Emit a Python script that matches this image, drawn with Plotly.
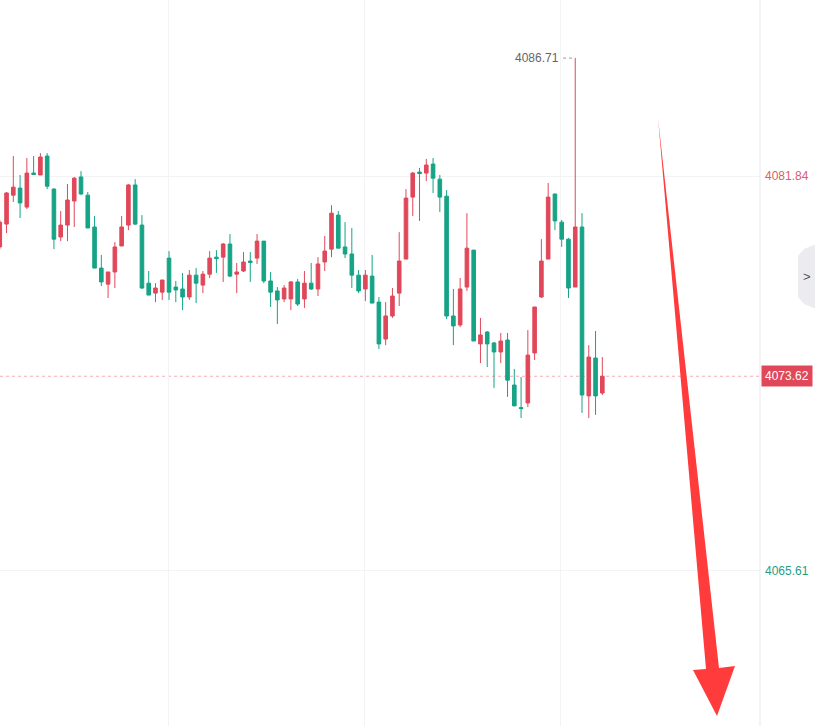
import plotly.graph_objects as go

# ---------------- data ----------------
idx = list(range(90))

opens = [4078.94, 4079.88, 4081.07, 4081.36, 4080.58, 4081.98, 4081.90, 4082.68, 4081.32, 4079.35,
         4079.84, 4080.83, 4081.82, 4081.07, 4079.76, 4078.07, 4077.41, 4077.91, 4078.98, 4079.84,
         4081.49, 4079.84, 4077.45, 4077.04, 4077.08, 4078.48, 4077.29, 4077.21, 4076.88, 4077.78,
         4077.37, 4077.82, 4078.52, 4078.52, 4079.06, 4077.82, 4077.95, 4078.36, 4078.48, 4079.18,
         4077.54, 4077.13, 4076.80, 4076.80, 4077.50, 4076.80, 4077.45, 4077.21, 4078.32, 4078.85,
         4080.25, 4078.94, 4078.65, 4077.78, 4077.21, 4077.74, 4076.67, 4075.15, 4076.10, 4077.04,
         4078.44, 4080.99, 4082.02, 4081.98, 4082.35, 4081.73, 4081.03, 4076.10, 4075.73, 4077.29,
         4078.81, 4074.95, 4075.44, 4074.99, 4074.62, 4075.11, 4073.26, 4072.33, 4072.52, 4074.58,
         4076.88, 4078.44, 4081.12, 4079.96, 4079.26, 4077.29, 4079.76, 4072.81, 4074.37, 4072.93]

highs = [4080.05, 4081.20, 4082.68, 4081.90, 4082.60, 4082.68, 4082.80, 4082.80, 4081.36, 4080.42,
         4081.53, 4081.82, 4082.06, 4081.20, 4080.21, 4078.61, 4077.91, 4079.14, 4080.21, 4081.53,
         4081.73, 4080.25, 4077.95, 4077.45, 4077.58, 4078.77, 4077.54, 4077.87, 4077.99, 4078.07,
         4077.95, 4078.77, 4078.81, 4079.10, 4079.47, 4078.28, 4078.73, 4078.73, 4079.47, 4079.18,
         4077.91, 4077.29, 4077.37, 4077.54, 4077.62, 4077.95, 4078.28, 4078.52, 4079.39, 4080.66,
         4080.42, 4079.96, 4079.72, 4077.99, 4077.99, 4078.61, 4076.88, 4076.67, 4077.25, 4079.55,
         4081.32, 4082.02, 4082.19, 4082.56, 4082.60, 4081.90, 4081.28, 4077.21, 4077.66, 4080.33,
         4078.81, 4076.02, 4075.48, 4075.03, 4075.40, 4075.40, 4073.92, 4073.59, 4075.52, 4076.47,
         4079.26, 4081.57, 4081.12, 4080.05, 4079.31, 4086.71, 4080.33, 4074.90, 4075.48, 4074.41]

lows = [4078.85, 4079.51, 4080.79, 4080.13, 4080.50, 4081.90, 4081.90, 4081.32, 4078.85, 4079.18,
        4079.18, 4079.76, 4081.07, 4079.72, 4078.07, 4077.33, 4076.84, 4077.25, 4078.98, 4079.63,
        4079.84, 4077.21, 4076.96, 4076.67, 4076.76, 4076.76, 4076.67, 4076.34, 4076.76, 4076.63,
        4077.04, 4077.66, 4077.87, 4077.50, 4077.70, 4077.04, 4077.91, 4077.50, 4078.24, 4077.45,
        4076.47, 4075.77, 4076.67, 4076.34, 4076.51, 4076.43, 4077.17, 4076.92, 4077.95, 4078.52,
        4078.89, 4078.48, 4077.25, 4077.04, 4076.71, 4076.63, 4074.74, 4074.90, 4076.02, 4076.51,
        4078.44, 4080.21, 4080.01, 4081.65, 4081.16, 4080.38, 4075.97, 4074.90, 4075.64, 4077.13,
        4075.07, 4074.16, 4074.00, 4073.14, 4074.16, 4072.77, 4072.40, 4071.90, 4072.35, 4074.29,
        4076.84, 4078.44, 4079.63, 4078.94, 4076.84, 4077.29, 4072.11, 4071.90, 4072.03, 4072.85]

closes = [4079.96, 4081.16, 4081.40, 4080.75, 4081.98, 4081.92, 4082.64, 4081.44, 4079.26, 4079.84,
          4080.87, 4081.77, 4081.12, 4079.72, 4078.07, 4077.50, 4077.91, 4078.94, 4079.76, 4081.49,
          4079.88, 4077.25, 4076.96, 4077.25, 4077.58, 4077.08, 4077.17, 4076.88, 4077.78, 4077.45,
          4077.82, 4078.48, 4078.46, 4079.06, 4077.74, 4077.91, 4078.32, 4078.30, 4079.18, 4077.54,
          4077.08, 4076.76, 4077.25, 4077.50, 4076.59, 4077.45, 4077.21, 4078.24, 4078.77, 4080.33,
          4078.89, 4078.65, 4077.78, 4077.13, 4077.78, 4076.63, 4074.95, 4076.10, 4076.92, 4078.36,
          4080.95, 4081.98, 4081.96, 4082.31, 4081.77, 4080.99, 4076.10, 4075.69, 4077.21, 4078.89,
          4075.07, 4075.32, 4074.95, 4074.62, 4075.07, 4073.46, 4072.40, 4072.29, 4074.49, 4076.47,
          4078.36, 4080.99, 4080.01, 4079.26, 4077.25, 4079.76, 4072.85, 4074.41, 4072.81, 4073.62]

price_ticks = [4081.84, 4065.61]
price_tick_labels = ["4081.84", "4065.61"]
last_price = 4073.62
high_label = "4086.71"
high_value = 4086.71
high_index = 85
time_grid = [24.9, 53.9, 82.8]

# ---------------- styling ----------------
RED = "#E0485A"
GREEN = "#16A386"
W, H = 815, 726
PLOT_W = 760

def px(x):
    return x / PLOT_W

def py(y):
    return 1 - y / H

fig = go.Figure()
fig.add_trace(go.Candlestick(
    x=idx, open=opens, high=highs, low=lows, close=closes,
    increasing=dict(line=dict(color=RED, width=1), fillcolor=RED),
    decreasing=dict(line=dict(color=GREEN, width=1), fillcolor=GREEN),
    whiskerwidth=0, hoverinfo="skip", showlegend=False,
))

shapes = []
# current price dotted line
shapes.append(dict(type="line", xref="paper", yref="y", x0=0, x1=1, y0=last_price, y1=last_price,
                   line=dict(color="#F2AEB5", width=1, dash="dot"), layer="below"))
# price-scale separator
shapes.append(dict(type="line", xref="paper", yref="paper", x0=1, x1=1, y0=0, y1=1,
                   line=dict(color="#E9E9EE", width=1)))
# dotted leader for the high label
shapes.append(dict(type="line", xref="x", yref="y", x0=high_index - 1.8, x1=high_index,
                   y0=high_value, y1=high_value, line=dict(color="#9A9A9A", width=1, dash="dot")))

# big red arrow (decoration)
arrow_pts = [(658, 118), (719, 668), (735, 666), (717, 716), (693, 670), (706, 669)]
path = "M " + " L ".join(f"{px(a):.5f},{py(b):.5f}" for a, b in arrow_pts) + " Z"
shapes.append(dict(type="path", xref="paper", yref="paper", path=path,
                   fillcolor="#FF3B3B", line=dict(width=0)))

# side tab with chevron
tab_pts = [(816, 244), (804, 249), (798, 256), (798, 297), (804, 304), (816, 309)]
tpath = "M " + " L ".join(f"{px(a):.5f},{py(b):.5f}" for a, b in tab_pts) + " Z"
shapes.append(dict(type="path", xref="paper", yref="paper", path=tpath,
                   fillcolor="#ECECF0", line=dict(width=0)))

annotations = []
tick_colors = ["#D9606B", "#1E9E86"]
for v, t, c in zip(price_ticks, price_tick_labels, tick_colors):
    annotations.append(dict(xref="paper", yref="y", x=px(763), y=v, text=t, showarrow=False,
                            xanchor="left", yanchor="middle",
                            font=dict(family="Liberation Sans, Arial", size=12, color=c)))
annotations.append(dict(xref="paper", yref="y", x=px(761), y=last_price, text=f"{last_price:.2f}",
                        showarrow=False, xanchor="left", yanchor="middle", bgcolor=RED, borderpad=3,
                        font=dict(family="Liberation Sans, Arial", size=12, color="white")))
annotations.append(dict(xref="x", yref="y", x=high_index, y=high_value, text=high_label,
                        showarrow=False, xanchor="right", yanchor="middle", xshift=-14,
                        font=dict(family="Liberation Sans, Arial", size=12, color="#666666")))
annotations.append(dict(xref="paper", yref="paper", x=px(807), y=py(276), text="&gt;",
                        showarrow=False, xanchor="center", yanchor="middle",
                        font=dict(family="Liberation Sans, Arial", size=13, color="#555555")))

fig.update_layout(
    width=W, height=H,
    margin=dict(l=0, r=W - PLOT_W, t=0, b=0),
    paper_bgcolor="white", plot_bgcolor="white",
    boxgap=0.24,
    shapes=shapes, annotations=annotations,
    xaxis=dict(range=[0.034, 112.29], rangeslider=dict(visible=False), showticklabels=False,
               tickvals=time_grid, showgrid=True, gridcolor="#F3F3F6", zeroline=False,
               showline=False, ticks=""),
    yaxis=dict(range=[4059.23, 4089.10], side="right", tickvals=price_ticks, showticklabels=False,
               showgrid=True, gridcolor="#F3F3F6", zeroline=False, showline=False, ticks=""),
    showlegend=False,
)

fig.write_html("out.html", config={"displayModeBar": False},
               post_script="document.body.style.margin='0';document.body.style.overflow='hidden';")
